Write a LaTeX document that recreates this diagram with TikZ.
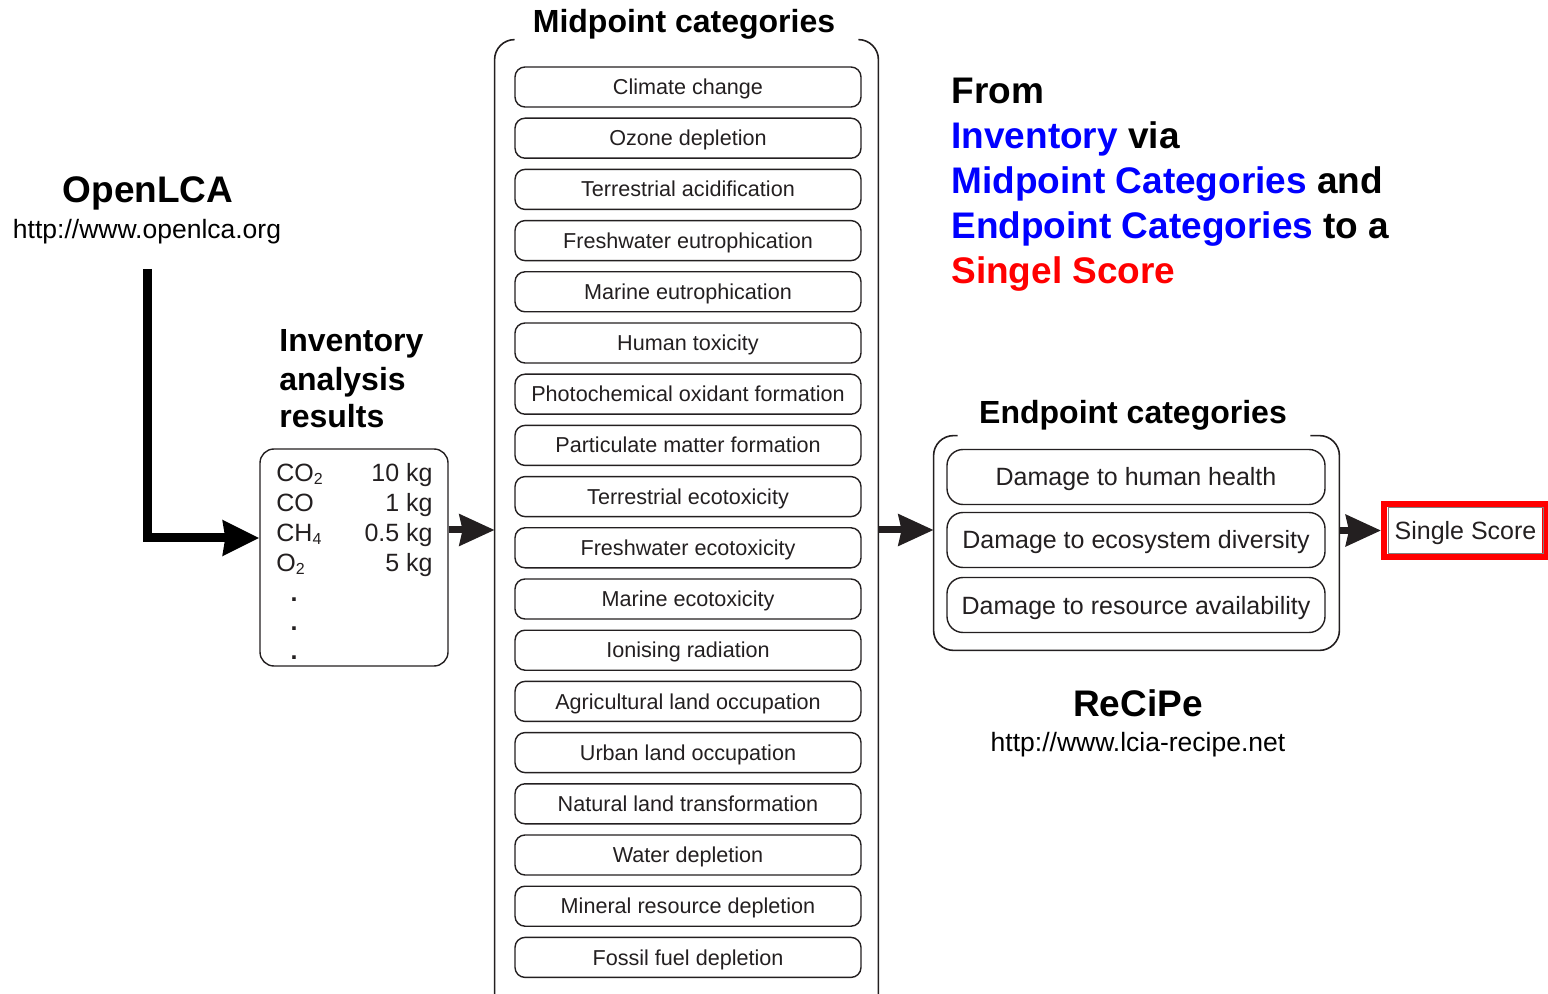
\documentclass[tikz,border=0pt]{standalone}
\usepackage{fontspec}
\setmainfont{Liberation Sans}
\usetikzlibrary{arrows.meta}
\definecolor{ink}{RGB}{35,31,32}
\definecolor{textblue}{RGB}{0,0,255}
\definecolor{textred}{RGB}{255,0,0}
\newcommand{\chemsub}[1]{\raisebox{-1.5pt}{\fontsize{8}{9}\selectfont #1}}

\tikzset{
  midbox/.style={draw=ink, line width=0.7pt, rounded corners=5pt, minimum width=173pt, minimum height=20pt, inner sep=0pt, text=ink, text height=7.6pt, text depth=0pt, font=\fontsize{10.8}{12}\selectfont},
  endbox/.style={draw=ink, line width=0.7pt, rounded corners=8pt, minimum width=189pt, minimum height=27.5pt, inner sep=0pt, text=ink, text height=9pt, text depth=0pt, font=\fontsize{12.5}{15}\selectfont},
  catframe/.style={draw=ink, line width=0.8pt, rounded corners=10pt},
  flow/.style={draw=ink, line width=3.5pt, -{Stealth[length=17.5pt,width=15.5pt,inset=1.5pt]}},
  bigflow/.style={draw=black, line width=4.5pt, -{Stealth[length=18pt,width=17pt,inset=1pt]}},
  heading/.style={font=\bfseries\fontsize{16}{19}\selectfont, inner sep=0pt},
  bigtext/.style={font=\bfseries\fontsize{18.5}{22}\selectfont, inner sep=0pt, anchor=base west},
  weblink/.style={font=\fontsize{13.25}{15}\selectfont, inner sep=0pt, anchor=base},
  listtext/.style={font=\fontsize{12.5}{15}\selectfont, inner sep=0pt, text=ink},
}

\begin{document}
\begin{tikzpicture}[x=0.5pt,y=0.5pt,yscale=-1,xscale=1]
\useasboundingbox (0,0) rectangle (1548,994);

\node[font=\bfseries\fontsize{18.5}{22}\selectfont, inner sep=0pt, anchor=base] (lca) at (148,203) {OpenLCA};
\node[weblink] (lcaurl) at (147,239) {http://www.openlca.org};
\coordinate (lcastart) at (147,269);

\node[heading, anchor=base west] (invhead1) at (279,352) {Inventory};
\node[heading, anchor=base west] (invhead2) at (279,391) {analysis};
\node[heading, anchor=base west] (invhead3) at (279,428) {results};

\node[draw=ink, line width=0.7pt, rounded corners=7pt, minimum width=94pt, minimum height=108.5pt] (inv) at (354,557.5) {};
\foreach \sp/\amt [count=\i from 0] in {CO\chemsub{2}/10 kg, CO/1 kg, CH\chemsub{4}/0.5 kg, O\chemsub{2}/5 kg} {
  \node[listtext, anchor=base west] (spec\i) at (276,482+30*\i) {\sp};
  \node[listtext, anchor=base east] (amt\i) at (433,482+30*\i) {\amt};
}
\foreach \i in {0,1,2}
  \node[listtext, font=\bfseries\fontsize{12.5}{15}\selectfont, anchor=base] (dot\i) at (294,601+29*\i) {.};

\node[heading, anchor=base] (midhead) at (684,33) {Midpoint categories};
\node[minimum width=191.5pt, minimum height=490pt, inner sep=0pt] (midframe) at (686.5,530) {};
\draw[catframe] ([xshift=10pt]midframe.north west) -- (midframe.north west) -- (midframe.south west) -- (midframe.south east) -- (midframe.north east) -- ([xshift=-10pt]midframe.north east);
\foreach \name [count=\i from 0] in {Climate change, Ozone depletion, Terrestrial acidification, Freshwater eutrophication, Marine eutrophication, Human toxicity, Photochemical oxidant formation, Particulate matter formation, Terrestrial ecotoxicity, Freshwater ecotoxicity, Marine ecotoxicity, Ionising radiation, Agricultural land occupation, Urban land occupation, Natural land transformation, Water depletion, Mineral resource depletion, Fossil fuel depletion}
  \node[midbox] (mid\i) at (688,87+51.2*\i) {\name};

\node[heading, anchor=base] (endhead) at (1133,424) {Endpoint categories};
\node[minimum width=202.5pt, minimum height=107pt, inner sep=0pt] (endframe) at (1136.5,543) {};
\draw[catframe] ([xshift=12pt]endframe.north west) -- (endframe.north west) -- (endframe.south west) -- (endframe.south east) -- (endframe.north east) -- ([xshift=-14.5pt]endframe.north east);
\node[endbox] (end0) at (1136,477) {Damage to human health};
\node[endbox] (end1) at (1136,540) {Damage to ecosystem diversity};
\node[endbox] (end2) at (1136,605) {Damage to resource availability};

\node[draw=textred, line width=3pt, minimum width=80.5pt, minimum height=26.5pt, inner sep=0pt] (score) at (1464.5,530.5) {};
\node[draw=gray, line width=0.4pt, minimum width=77.5pt, minimum height=23pt, inner sep=0pt, text height=9pt, text depth=0pt, font=\fontsize{12.5}{15}\selectfont, text=ink] (scoretext) at (1465.5,530) {Single Score};

\node[bigtext] (line1) at (951,104) {From};
\node[bigtext] (line2) at (951,149) {\textcolor{textblue}{Inventory} via};
\node[bigtext] (line3) at (951,194) {\textcolor{textblue}{Midpoint Categories} and};
\node[bigtext] (line4) at (951,239) {\textcolor{textblue}{Endpoint Categories} to a};
\node[bigtext, text=textred] (line5) at (951,284) {Singel Score};

\node[font=\bfseries\fontsize{18.5}{22}\selectfont, inner sep=0pt, anchor=base] (recipe) at (1138,716) {ReCiPe};
\node[weblink] (recipeurl) at (1138,751) {http://www.lcia-recipe.net};

\draw[bigflow] (lcastart) |- (inv.west |- 0,538);
\draw[flow] (inv.east |- midframe.west) -- (midframe.west);
\draw[flow] (midframe.east) -- (midframe.east -| endframe.west);
\draw[flow] (score.west -| endframe.east) -- (score.west);
\end{tikzpicture}
\end{document}
